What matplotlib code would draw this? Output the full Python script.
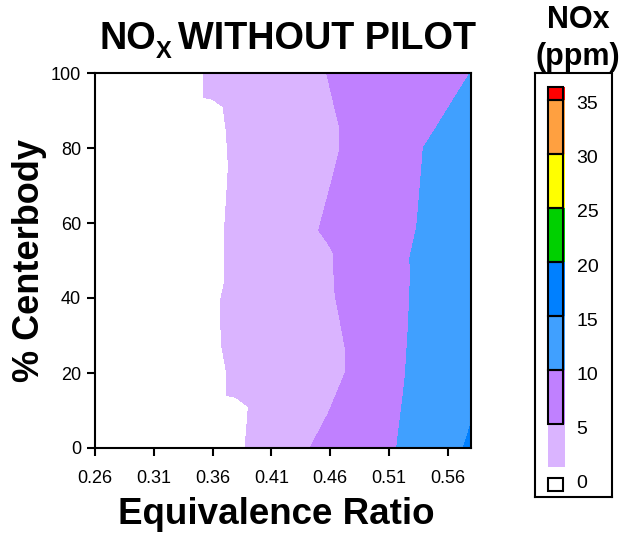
import numpy as np
import matplotlib
matplotlib.use("Agg")
import matplotlib.pyplot as plt

plt.rcParams['font.family'] = 'Liberation Sans'

# % centerbody rows and the equivalence ratio where NOx crosses 0, 5 and 10 ppm
centerbody = [0, 7, 9, 11, 13.5, 14, 19, 20, 27, 28, 32, 40, 41, 45, 48, 50,
              52, 55, 58, 60, 66, 75, 80, 85, 91, 93, 93.5, 100]
phi_0ppm = [0.3877, 0.3895, 0.3900, 0.3905, 0.3799, 0.3721, 0.3721, 0.3720,
            0.3680, 0.3674, 0.3672, 0.3672, 0.3680, 0.3706, 0.3706, 0.3706,
            0.3706, 0.3706, 0.3706, 0.3706, 0.3718, 0.3735, 0.3726, 0.3716,
            0.3689, 0.3602, 0.3522, 0.3522]
phi_5ppm = [0.4430, 0.4548, 0.4582, 0.4609, 0.4642, 0.4649, 0.4716, 0.4728,
            0.4728, 0.4722, 0.4698, 0.4649, 0.4643, 0.4636, 0.4631, 0.4628,
            0.4629, 0.4574, 0.4503, 0.4520, 0.4571, 0.4647, 0.4685, 0.4685,
            0.4639, 0.4624, 0.4620, 0.4572]
phi_10ppm = [0.5167, 0.5194, 0.5202, 0.5210, 0.5220, 0.5222, 0.5240, 0.5242,
             0.5256, 0.5258, 0.5266, 0.5277, 0.5278, 0.5283, 0.5286, 0.5276,
             0.5288, 0.5310, 0.5331, 0.5341, 0.5357, 0.5381, 0.5394, 0.5495,
             0.5614, 0.5653, 0.5663, 0.5792]
# NOx (ppm) at the lean and rich edges of the map
nox_lean = -1.0
nox_rich = [15.6, 14.95, 14.8, 14.7, 14.6, 14.6, 14.5, 14.5, 14.4, 14.4, 14.3,
            14.2, 14.2, 14.1, 14.1, 14.0, 14.0, 13.9, 13.8, 13.7, 13.5, 13.2,
            12.9, 12.2, 11.3, 11.0, 10.9, 10.05]
phi_lean, phi_rich = 0.26, 0.58

levels = [-5, 0, 5, 10, 15, 20, 25, 30, 35, 40]
colors = ['#FFFFFF', '#DAB4FF', '#C080FF', '#40A0FF', '#0080FF',
          '#00D000', '#FFFF00', '#FFA040', '#FF0000']
xticks = [0.26, 0.31, 0.36, 0.41, 0.46, 0.51, 0.56]
yticks = [0, 20, 40, 60, 80, 100]

n = len(centerbody)
X = np.column_stack([np.full(n, phi_lean), phi_0ppm, phi_5ppm, phi_10ppm,
                     np.full(n, phi_rich)])
Y = np.repeat(np.array(centerbody)[:, None], 5, axis=1)
Z = np.column_stack([np.full(n, nox_lean), np.zeros(n), np.full(n, 5.0),
                     np.full(n, 10.0), nox_rich])

fig = plt.figure(figsize=(6.26, 5.33), dpi=100)
ax = fig.add_axes([95/626, 85/533, 376/626, 375/533])
ax.contourf(X, Y, Z, levels=levels, colors=colors)
ax.set_xlim(phi_lean, phi_rich)
ax.set_ylim(0, 100)
ax.set_xticks(xticks)
ax.set_xticklabels([f"{t:.2f}" for t in xticks])
ax.set_yticks(yticks)
ax.tick_params(direction='out', length=6, width=1.5, labelsize=13)
ax.tick_params(axis='x', pad=10)
ax.tick_params(axis='y', pad=4)
for s in ax.spines.values():
    s.set_linewidth(1.5)
ax.set_xlabel('Equivalence Ratio', fontsize=26.5, fontweight='bold')
ax.xaxis.set_label_coords(0.483, -0.13)
ax.set_ylabel('% Centerbody', fontsize=26, fontweight='bold')
ax.yaxis.set_label_coords(-0.128, 0.5)

# title: NO with a lowered X subscript
fig.text(100/626, 1 - 49/533, 'NO', ha='left', va='baseline', fontsize=27.3,
         fontweight='bold')
fig.text(156/626, 1 - 58/533, 'X', ha='left', va='baseline', fontsize=17,
         fontweight='bold')
fig.text(178/626, 1 - 49/533, 'WITHOUT PILOT', ha='left', va='baseline',
         fontsize=27.3, fontweight='bold')

# colour key
cbar_lo = [1.08, 5, 10, 15, 20, 25, 30, 35]
cbar_hi = [5, 10, 15, 20, 25, 30, 35, 36.23]
cbar_labels = [0, 5, 10, 15, 20, 25, 30, 35]

cax = fig.add_axes([535/626, 1 - 496.7/533, 76.7/626, 423.4/533])
cax.set_xlim(0, 76.7)
cax.set_ylim(-1.69, 37.47)
cax.set_xticks([])
cax.set_yticks([])
for s in cax.spines.values():
    s.set_linewidth(1.5)
cax.bar(13.3, [h - l for l, h in zip(cbar_lo, cbar_hi)], bottom=cbar_lo,
        width=16.5, align='edge', color=colors[1:], linewidth=0)
cax.bar(13.3, [h - l for l, h in zip(cbar_lo[1:], cbar_hi[1:])],
        bottom=cbar_lo[1:], width=15, align='edge', fill=False,
        edgecolor='black', linewidth=1.5)
cax.bar(13.3, 1.14, bottom=-1.14, width=15, align='edge', color='white',
        edgecolor='black', linewidth=1.5)
for v in cbar_labels:
    cax.text(41.7, v - 0.45, str(v), va='center', fontsize=14)

fig.text(578/626, 1 - 20/533, 'NOx', ha='center', va='center', fontsize=22,
         fontweight='bold')
fig.text(578/626, 1 - 57/533, '(ppm)', ha='center', va='center', fontsize=22,
         fontweight='bold')

fig.savefig('out.png', dpi=100)
